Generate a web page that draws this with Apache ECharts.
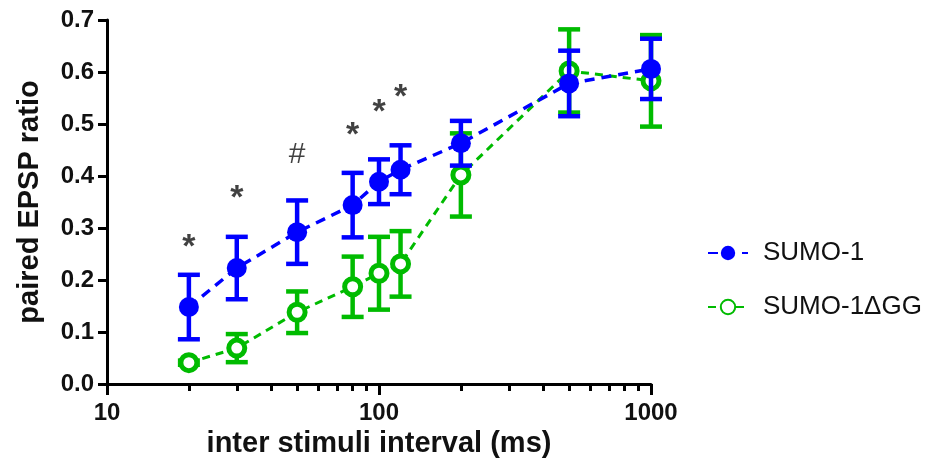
<!DOCTYPE html>
<html><head><meta charset="utf-8">
<script src="https://cdn.jsdelivr.net/npm/echarts@6/dist/echarts.min.js"></script>
<style>html,body{margin:0;padding:0;background:#fff}#c{width:949px;height:467px}</style>
</head><body><div id="c"></div>
<script>
const xVals = [20, 30, 50, 80, 100, 120, 200, 500, 1000];
const sumoMean = [0.148, 0.223, 0.292, 0.344, 0.389, 0.412, 0.463, 0.578, 0.606];
const sumoErr  = [0.062, 0.060, 0.061, 0.062, 0.043, 0.047, 0.043, 0.063, 0.058];
const ggMean   = [0.041, 0.069, 0.138, 0.187, 0.213, 0.231, 0.402, 0.602, 0.583];
const ggErr    = [0.004, 0.027, 0.040, 0.058, 0.070, 0.063, 0.080, 0.080, 0.088];
const annotX = [20, 30, 50, 80, 100, 120];
const annotY = [0.262, 0.356, 0.44, 0.478, 0.522, 0.55];
const annotText = ['*', '*', '#', '*', '*', '*'];
const minorTicks = [10,20,30,40,50,60,70,80,90,100,200,300,400,500,600,700,800,900,1000];
const majorTicks = [10,100,1000];

const BLUE = '#0000ff', GREEN = '#00bb00';
const FONT = 'Liberation Sans, Arial, sans-serif';

function errSeries(name, mean, err, color, z) {
  return {
    name: name + '_err', type: 'custom', z: z, silent: true,
    data: xVals.map((x, i) => [x, mean[i] - err[i], mean[i] + err[i]]),
    renderItem: function (params, api) {
      const lo = api.coord([api.value(0), api.value(1)]);
      const hi = api.coord([api.value(0), api.value(2)]);
      const hw = 11;
      const st = { stroke: color, lineWidth: 4.5 };
      return { type: 'group', children: [
        { type: 'line', shape: { x1: lo[0], y1: lo[1], x2: hi[0], y2: hi[1] }, style: st },
        { type: 'line', shape: { x1: lo[0]-hw, y1: lo[1], x2: lo[0]+hw, y2: lo[1] }, style: st },
        { type: 'line', shape: { x1: hi[0]-hw, y1: hi[1], x2: hi[0]+hw, y2: hi[1] }, style: st }
      ]};
    }
  };
}

const chart = echarts.init(document.getElementById('c'));
chart.setOption({
  animation: false,
  backgroundColor: '#fff',
  grid: { left: 107, right: 298, top: 20, bottom: 83 },
  legend: {
    orient: 'vertical', left: 702, top: 235, itemGap: 28,
    itemWidth: 40, itemHeight: 18,
    data: ['SUMO-1', 'SUMO-1ΔGG'],
    textStyle: { fontFamily: FONT, fontSize: 26, color: '#111', padding: [0, 0, 0, 10] }
  },
  xAxis: [{
    type: 'log', logBase: 10, min: 10, max: 1000,
    name: 'inter stimuli interval (ms)', nameLocation: 'middle', nameGap: 40,
    nameTextStyle: { fontFamily: FONT, fontSize: 29, fontWeight: 'bold', color: '#111' },
    axisLine: { lineStyle: { color: '#000', width: 3 } },
    axisTick: { show: true, length: 7, lineStyle: { color: '#000', width: 3 }, customValues: minorTicks },
    axisLabel: { fontFamily: FONT, fontSize: 24, fontWeight: 'bold', color: '#111', margin: 17,
      customValues: majorTicks, formatter: v => String(Math.round(v)) },
    splitLine: { show: false }
  }, {
    type: 'log', logBase: 10, min: 10, max: 1000, position: 'bottom',
    axisLine: { show: false },
    axisTick: { show: true, length: 11, lineStyle: { color: '#000', width: 3 }, customValues: majorTicks },
    axisLabel: { show: false },
    splitLine: { show: false }
  }],
  yAxis: {
    type: 'value', min: 0, max: 0.7, interval: 0.1,
    name: 'paired EPSP ratio', nameLocation: 'middle', nameGap: 63,
    nameTextStyle: { fontFamily: FONT, fontSize: 29, fontWeight: 'bold', color: '#111' },
    axisLine: { show: true, lineStyle: { color: '#000', width: 3 } },
    axisTick: { show: true, length: 9, lineStyle: { color: '#000', width: 3 } },
    axisLabel: { fontFamily: FONT, fontSize: 24, fontWeight: 'bold', color: '#111', margin: 13,
      formatter: v => v.toFixed(1) },
    splitLine: { show: false }
  },
  series: [
    errSeries('SUMO-1ΔGG', ggMean, ggErr, GREEN, 2),
    {
      name: 'SUMO-1ΔGG', type: 'line', z: 3,
      data: xVals.map((x, i) => [x, ggMean[i]]),
      symbol: 'circle', symbolSize: 16,
      itemStyle: { color: '#fff', borderColor: GREEN, borderWidth: 5 },
      lineStyle: { color: GREEN, width: 3, type: [8, 6] }
    },
    errSeries('SUMO-1', sumoMean, sumoErr, BLUE, 4),
    {
      name: 'SUMO-1', type: 'line', z: 5,
      data: xVals.map((x, i) => [x, sumoMean[i]]),
      symbol: 'circle', symbolSize: 20,
      itemStyle: { color: BLUE, borderColor: BLUE, borderWidth: 0 },
      lineStyle: { color: BLUE, width: 3.5, type: [10, 7] }
    },
    {
      name: 'annot', type: 'scatter', z: 6, silent: true,
      data: annotX.map((x, i) => ({
        value: [x, annotY[i]], name: annotText[i],
        label: annotText[i] === '#'
          ? { fontSize: 30, fontWeight: 'normal' }
          : { fontSize: 34, fontWeight: 'bold' }
      })),
      symbolSize: 1, itemStyle: { color: 'rgba(0,0,0,0)' },
      label: { show: true, position: 'inside', formatter: p => p.name,
        fontFamily: FONT, color: '#111' }
    }
  ]
});
</script></body></html>
